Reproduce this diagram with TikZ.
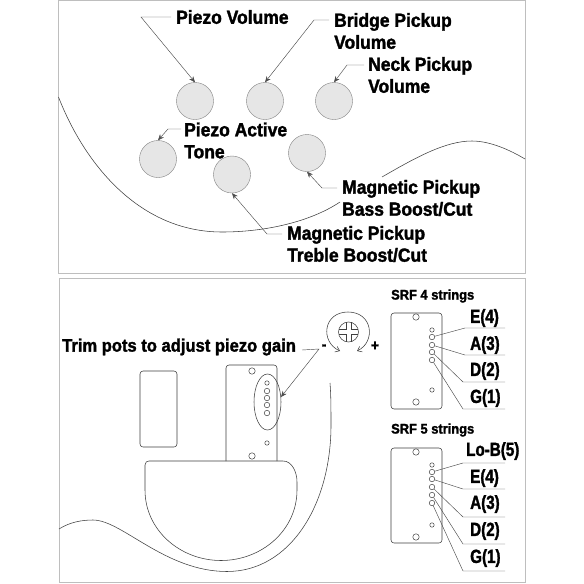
\documentclass[tikz,border=0pt]{standalone}
\usepackage{fontspec}
\setmainfont{Liberation Sans}[BoldFeatures={FakeStretch=0.92,FakeBold=1.6}]
\newfontfamily\narrowfont{Liberation Sans}[BoldFeatures={FakeStretch=0.8,FakeBold=1.6}]
\usetikzlibrary{arrows.meta}
\definecolor{panelgray}{RGB}{190,190,190}
\definecolor{knobgray}{RGB}{230,230,230}
\tikzset{
    panel/.style={draw=panelgray, line width=1pt},
    knob/.style={circle, draw=gray, fill=knobgray, line width=0.4pt, minimum size=37pt, inner sep=0pt},
    lbl/.style={font=\fontsize{19}{22}\selectfont\bfseries, align=left, inner sep=0pt, anchor=west},
    strlbl/.style={font=\fontsize{19}{22}\narrowfont\bfseries, inner sep=0pt, anchor=west},
    smalllbl/.style={font=\fontsize{14}{17}\selectfont\bfseries, inner sep=0pt, anchor=west},
    signlbl/.style={font=\fontsize{15}{17}\selectfont\bfseries, inner sep=0pt},
    lead/.style={draw=black!70, line width=0.45pt},
    leadarrow/.style={lead, -{Stealth[length=6pt,width=5pt]}},
    outline/.style={draw=black!75, line width=0.55pt},
    plate/.style={outline, rounded corners=3pt},
    hole/.style={circle, draw=black!75, line width=0.5pt, minimum size=6.4pt, inner sep=0pt},
    tinyhole/.style={circle, draw=black!75, line width=0.5pt, minimum size=4.4pt, inner sep=0pt},
}
\begin{document}
\begin{tikzpicture}[x=1pt, y=-1pt]
    \useasboundingbox (0,0) rectangle (584,584);
    \fill[white] (0,0) rectangle (584,584);
    \draw[panel] (58.5,0.5) rectangle (525,273);
    \draw[panel] (59,278) rectangle (525,582.5);

    % body line, upper panel
    \draw[outline] (58.5,97) .. controls (85,165) and (140,232) .. (222,232)
        .. controls (265,232) and (310,222) .. (340,202);
    \draw[outline] (382,177) .. controls (415,158) and (445,141) .. (472,141)
        .. controls (490,141) and (510,150) .. (525,159);

    % knobs
    \node[knob] (knobpv) at (195,101) {};
    \node[knob] (knobbv) at (265,101) {};
    \node[knob] (knobnv) at (334,101) {};
    \node[knob] (knobpt) at (158,159) {};
    \node[knob] (knobtr) at (232,174.5) {};
    \node[knob] (knobba) at (307,153) {};

    \node[lbl] (lblpv) at (176,17) {Piezo Volume};
    \node[lbl] (lblbv) at (334,31) {Bridge Pickup\\Volume};
    \node[lbl] (lblnv) at (368,75) {Neck Pickup\\Volume};
    \node[lbl] (lblpt) at (184,140.5) {Piezo Active\\Tone};
    \node[lbl] (lblba) at (342,198) {Magnetic Pickup\\Bass Boost/Cut};
    \node[lbl] (lbltr) at (287,244) {Magnetic Pickup\\Treble Boost/Cut};

    \coordinate (cpv) at (141,17);
    \coordinate (cbv) at (314,20);
    \coordinate (cnv) at (347,65);
    \coordinate (cpt) at (168,129);
    \coordinate (cba) at (322,188);
    \coordinate (ctr) at (267,234);
    \draw[leadarrow] ([xshift=-5pt]lblpv.west) -- (cpv) -- (knobpv.north);
    \draw[leadarrow] (329,20) -- (cbv) -- (knobbv.north);
    \draw[leadarrow] (364,65) -- (cnv) -- (knobnv.north);
    \draw[leadarrow] (181,129) -- (cpt) -- (knobpt.north);
    \draw[leadarrow] (337,188) -- (cba) -- (knobba.south);
    \draw[leadarrow] (282,234) -- (ctr) -- (knobtr.south);

    % lower panel, body and cover
    \draw[outline] (59,529) .. controls (70,522) and (82,520) .. (93,520)
        .. controls (122,520) and (165,571.5) .. (227,571.5)
        .. controls (290,571.5) and (331,505) .. (331,425)
        .. controls (331,410) and (331,395) .. (330,383);
    \draw[plate] (226,461) -- (226,365) -- (277,365) -- (277,461);
    \draw[plate] (140,371) rectangle (177,447);
    \draw[outline] (149,461) -- (283,461) .. controls (292,461) and (297,472) .. (297,482)
        -- (297,490) .. controls (297,530) and (262,560.5) .. (221,560.5)
        .. controls (180,560.5) and (145,530) .. (145,490) -- (145,465)
        .. controls (145,462) and (147,461) .. (149,461);

    % bridge on the guitar
    \node[hole] (scra) at (252,371) {};
    \node[hole] (scrb) at (252,456) {};
    \node[tinyhole] (trima) at (267,383) {};
    \node[tinyhole] (trimb) at (267,443) {};
    \foreach \n/\yy in {1/391,2/398,3/405,4/413}
        \node[hole, minimum size=5.5pt] (sad\n) at (267,\yy) {};
    \draw[outline] (267.5,402) ellipse (13.5 and 28);

    \node[lbl, font=\fontsize{18}{22}\selectfont\bfseries] (lbltrim) at (62,347) {Trim pots to adjust piezo gain};
    \node[signlbl] (lblminus) at (324,347) {-};
    \node[signlbl] (lblplus) at (375,346) {+};
    \coordinate (ctrim) at (319,349);
    \draw[leadarrow] (302,350) -- (ctrim) -- (281,397);

    % trim screw
    \node[circle, outline, minimum size=20pt, inner sep=0pt] (screw) at (348.5,332) {};
    \draw[outline] (346,322.3) -- (346,329.5) -- (338.9,329.5);
    \draw[outline] (351,322.3) -- (351,329.5) -- (358.1,329.5);
    \draw[outline] (346,341.7) -- (346,334.5) -- (338.9,334.5);
    \draw[outline] (351,341.7) -- (351,334.5) -- (358.1,334.5);
    \draw[outline, {Straight Barb[length=4pt,width=6pt]}-{Straight Barb[length=4pt,width=6pt]}]
        (340,351) .. controls (320,342) and (323,312) .. (348,312)
        .. controls (373,312) and (376,342) .. (357,351);

    % string diagrams
    \node[smalllbl] (lblfour) at (391,296) {SRF 4 strings};
    \node[smalllbl] (lblfive) at (391,430) {SRF 5 strings};
    \draw[plate] (391,313) rectangle (442,409);
    \draw[plate] (391,448) rectangle (442,543);
    \foreach \m/\yt in {four/0,five/135}{
        \node[hole] (\m scra) at (416,317+\yt) {};
        \node[hole] (\m scrb) at (416,402+\yt) {};
        \node[tinyhole] (\m tina) at (432,330+\yt) {};
        \node[tinyhole] (\m tinb) at (432,390+\yt) {};
    }
    \foreach \n/\yy in {e/337,a/345,d/352,g/360}
        \node[hole, minimum size=5.5pt] (four\n) at (432,\yy) {};
    \foreach \n/\yy in {b/472,e/479,a/487,d/495,g/503}
        \node[hole, minimum size=5.5pt] (five\n) at (432,\yy) {};

    \foreach \n/\t/\yy/\ly/\lx in {e/E(4)/318/328/465,a/A(3)/345/355/465,d/D(2)/371/382/463,g/G(1)/398/409/463}{
        \node[strlbl] (lab\n) at (470,\yy) {\t};
        \draw[lead] (four\n) -- (\lx,\ly) -- (505,\ly);
    }
    \node[strlbl] (labfb) at (466,451) {Lo-B(5)};
    \node[strlbl] (labfe) at (470,478) {E(4)};
    \node[strlbl] (labfa) at (470,504) {A(3)};
    \node[strlbl] (labfd) at (470,531) {D(2)};
    \node[strlbl] (labfg) at (470,558) {G(1)};
    \foreach \n/\ly in {b/463,e/489,a/517,d/544,g/571}
        \draw[lead] (five\n) -- (463,\ly) -- (505,\ly);
\end{tikzpicture}
\end{document}
